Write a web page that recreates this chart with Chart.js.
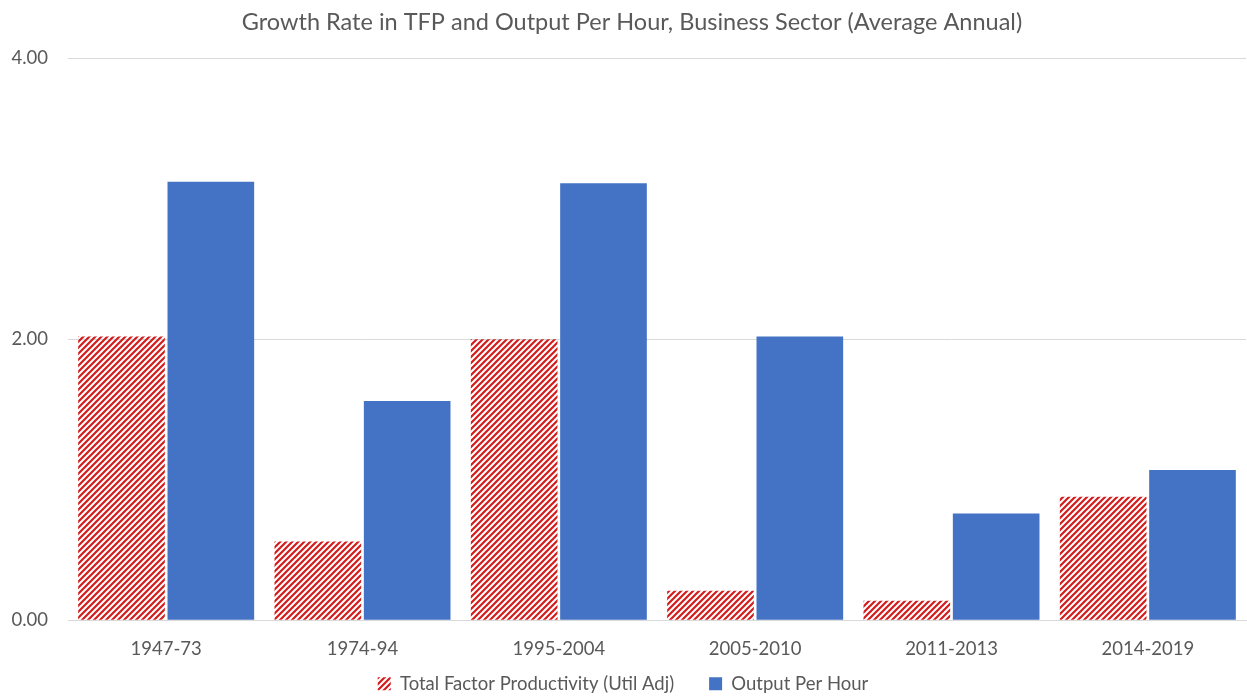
<!DOCTYPE html>
<html>
<head>
<meta charset="utf-8">
<script src="https://cdn.jsdelivr.net/npm/chart.js@4"></script>
<style>
  html, body { margin: 0; padding: 0; background: #fff; }
  #wrap { width: 1247px; height: 700px; }
</style>
</head>
<body>
<div id="wrap"><canvas id="myChart" width="1247" height="700"></canvas></div>
<script>
// Périodes et taux de croissance moyens annuels (%)
const periods = ["1947-73", "1974-94", "1995-2004", "2005-2010", "2011-2013", "2014-2019"];
const tfpValues = [2.02, 0.56, 2.00, 0.21, 0.14, 0.88];
const outputPerHour = [3.12, 1.56, 3.11, 2.02, 0.76, 1.07];
const yTicks = [0, 2, 4];

const textColor = "#595959";
const fontFamily = "Lato, 'Open Sans', sans-serif";

// Motif hachuré rouge pour la PGF
function makeHatch() {
  const size = 6;
  const c = document.createElement("canvas");
  c.width = size;
  c.height = size;
  const g = c.getContext("2d");
  g.strokeStyle = "#d41c1c";
  g.lineWidth = 2.2;
  g.beginPath();
  g.moveTo(0, size);
  g.lineTo(size, 0);
  g.moveTo(-size / 2, size / 2);
  g.lineTo(size / 2, -size / 2);
  g.moveTo(size / 2, size * 1.5);
  g.lineTo(size * 1.5, size / 2);
  g.stroke();
  return g.createPattern(c, "repeat");
}

// Remonte la légende et décale un peu le titre vers la droite
const nudgeBoxes = {
  id: "nudgeBoxes",
  afterLayout(chart) {
    if (chart.legend) {
      chart.legend.top -= 31;
      chart.legend.bottom -= 31;
    }
    if (chart.titleBlock) {
      chart.titleBlock.left += 18;
    }
  },
};

const ctx = document.getElementById("myChart").getContext("2d");
const hatch = makeHatch();

window.myChart = new Chart(ctx, {
  type: "bar",
  data: {
    labels: periods,
    datasets: [
      {
        label: "Total Factor Productivity (Util Adj)",
        data: tfpValues,
        backgroundColor: hatch,
        borderWidth: 0,
        categoryPercentage: 0.91,
        barPercentage: 0.97,
      },
      {
        label: "Output Per Hour",
        data: outputPerHour,
        backgroundColor: "#4472c4",
        borderWidth: 0,
        categoryPercentage: 0.91,
        barPercentage: 0.97,
      },
    ],
  },
  plugins: [nudgeBoxes],
  options: {
    responsive: false,
    animation: false,
    layout: { padding: { left: 0, right: 1, top: 0, bottom: -34 } },
    plugins: {
      title: {
        display: true,
        text: "Growth Rate in TFP and Output Per Hour, Business Sector (Average Annual)",
        color: textColor,
        font: { family: fontFamily, size: 23.5, weight: "normal" },
        padding: { top: 8, bottom: 22 },
      },
      legend: {
        position: "bottom",
        labels: {
          color: textColor,
          font: { family: fontFamily, size: 18.5 },
          boxWidth: 13,
          boxHeight: 13,
          padding: 35,
        },
      },
      tooltip: { enabled: false },
    },
    scales: {
      x: {
        grid: { display: false },
        border: { display: true, color: "#d9d9d9", width: 1 },
        ticks: {
          color: textColor,
          font: { family: fontFamily, size: 18.5 },
          padding: 10,
        },
      },
      y: {
        min: 0,
        max: 4,
        afterBuildTicks: (scale) => {
          scale.ticks = yTicks.map((v) => ({ value: v }));
        },
        afterFit: (scale) => {
          scale.width = 68;
        },
        grid: { color: "#d9d9d9", drawTicks: false },
        border: { display: false },
        ticks: {
          color: textColor,
          font: { family: fontFamily, size: 18.5 },
          padding: 20,
          callback: (v) => Number(v).toFixed(2),
        },
      },
    },
  },
});
</script>
</body>
</html>
